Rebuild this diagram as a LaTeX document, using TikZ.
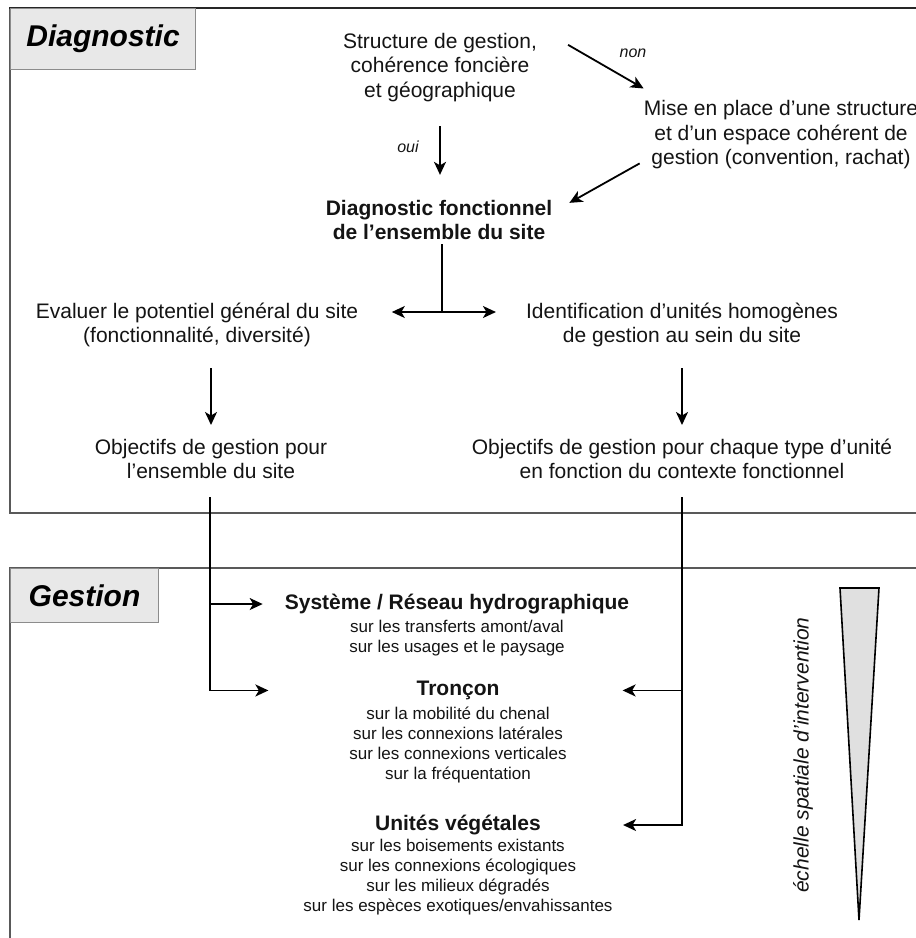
\documentclass[tikz,border=0pt]{standalone}
\usepackage{fontspec}
\setmainfont{Liberation Sans}
\usetikzlibrary{arrows.meta,calc}

\begin{document}
\begin{tikzpicture}[x=1pt,y=-1pt,
  frame/.style={draw=black!65, line width=1.6pt},
  tabbox/.style={draw=black!45, fill=black!9, line width=1.1pt, inner sep=0,
    anchor=north west, font=\fontsize{30}{36}\selectfont\bfseries\itshape},
  big/.style={font=\fontsize{21}{24.5}\selectfont, align=center, anchor=north, inner sep=0, text=black!92},
  bigb/.style={big, font=\fontsize{21}{24.5}\selectfont\bfseries},
  heading/.style={font=\fontsize{21}{24}\selectfont\bfseries, anchor=base, inner sep=0, text=black!92},
  sub/.style={font=\fontsize{17}{20}\selectfont, align=center, anchor=north, inner sep=0, text=black!92},
  lbl/.style={font=\fontsize{16}{18}\selectfont\itshape, inner sep=0, text=black!92},
  conn/.style={line width=1.8pt, -{Stealth[length=13pt,width=12pt,inset=3.5pt]}},
  wire/.style={line width=1.8pt},
]
\useasboundingbox (0,0) rectangle (916,938);
\fill[white] (0,0) rectangle (916,938);

% section frames
\draw[frame] (10,8) -- (10,513) -- (925,513);
\draw[black!85, line width=1.7pt] (9.2,8) -- (925,8);
\draw[frame] (925,568) -- (10,568) -- (10,945);

% section tabs
\node[tabbox, minimum width=185pt, minimum height=61pt] (diagtab) at (10,8) {Diagnostic};
\node[tabbox, minimum width=148pt, minimum height=54pt] (gesttab) at (10,568) {Gestion};

% diagnostic part
\node[big] (struct) at (440,30.85) {\strut Structure de gestion,\\coh\'erence fonci\`ere\\et g\'eographique\strut};
\node[big] (mise) at (781,98.5) {\strut Mise en place d'une structure\\et d'un espace coh\'erent de\\gestion (convention, rachat)\strut};
\node[bigb] (diag) at (439,197.85) {\strut Diagnostic fonctionnel\\de l'ensemble du site\strut};
\node[big] (eval) at (197,300.85) {\strut Evaluer le potentiel g\'en\'eral du site\\(fonctionnalit\'e, diversit\'e)\strut};
\node[big] (ident) at (682,300.85) {\strut Identification d'unit\'es homog\`enes\\de gestion au sein du site\strut};
\node[big] (objg) at (211,437) {\strut Objectifs de gestion pour\\l'ensemble du site\strut};
\node[big] (obju) at (682,437) {\strut Objectifs de gestion pour chaque type d'unit\'e\\en fonction du contexte fonctionnel\strut};

\node[lbl] (oui) at (408,147) {oui};
\node[lbl] (non) at (633,53) {non};

\draw[conn] ($(struct.south)+(0,21.5)$) -- ($(struct.south |- diag.north)+(0,-23)$);
\draw[conn] ($(struct.north east)+(31,14)$) -- ($(mise.north west)+(0,-10)$);
\draw[conn] ($(mise.south west)+(-4,-9)$) -- ($(diag.north east)+(17,5)$);

\coordinate (split) at (442,312);
\draw[wire] ($(diag.south -| split)+(0,-3)$) -- (split);
\draw[conn] (split) -- ($(split -| eval.east)+(33.5,0)$);
\draw[conn] (split) -- ($(split -| ident.west)+(-30,0)$);

\draw[conn] ($(eval.south -| objg.north)+(0,18)$) -- ($(objg.north)+(0,-12)$);
\draw[conn] ($(ident.south -| obju.north)+(0,18)$) -- ($(obju.north)+(0,-12)$);

% management part
\node[heading] (sys) at (457,609.5) {Syst\`eme / R\'eseau hydrographique};
\node[sub] (syssub) at (457,618.5) {\strut sur les transferts amont/aval\\sur les usages et le paysage\strut};
\node[heading] (tron) at (458,695.5) {Tron\c{c}on};
\node[sub] (tronsub) at (458,705.5) {\strut sur la mobilit\'e du chenal\\sur les connexions lat\'erales\\sur les connexions verticales\\sur la fr\'equentation\strut};
\node[heading] (veg) at (458,830.5) {Unit\'es v\'eg\'etales};
\node[sub] (vegsub) at (458,837.5) {\strut sur les boisements existants\\sur les connexions \'ecologiques\\sur les milieux d\'egrad\'es\\sur les esp\`eces exotiques/envahissantes\strut};

\coordinate (lj) at ($(objg.south)+(-1,11)$);
\coordinate (rj) at ($(obju.south)+(0,11)$);
\draw[conn] (lj) |- ($(tron.west)+(-148,0)$);
\draw[conn] (lj |- sys.west) -- ($(sys.west)+(-22,0)$);
\draw[conn] (rj) |- ($(veg.east)+(82,0)$);
\draw[conn] (rj |- tron.east) -- ($(tron.east)+(123,0)$);

% spatial scale wedge
\draw[line width=1.6pt, fill=black!12, line join=miter] (840,588) -- (879,588) -- (859,920) -- cycle;
\node[font=\fontsize{21}{24}\selectfont\itshape, rotate=90, inner sep=0, text=black!92] (scale) at (803,755) {\'echelle spatiale d'intervention};
\end{tikzpicture}
\end{document}
